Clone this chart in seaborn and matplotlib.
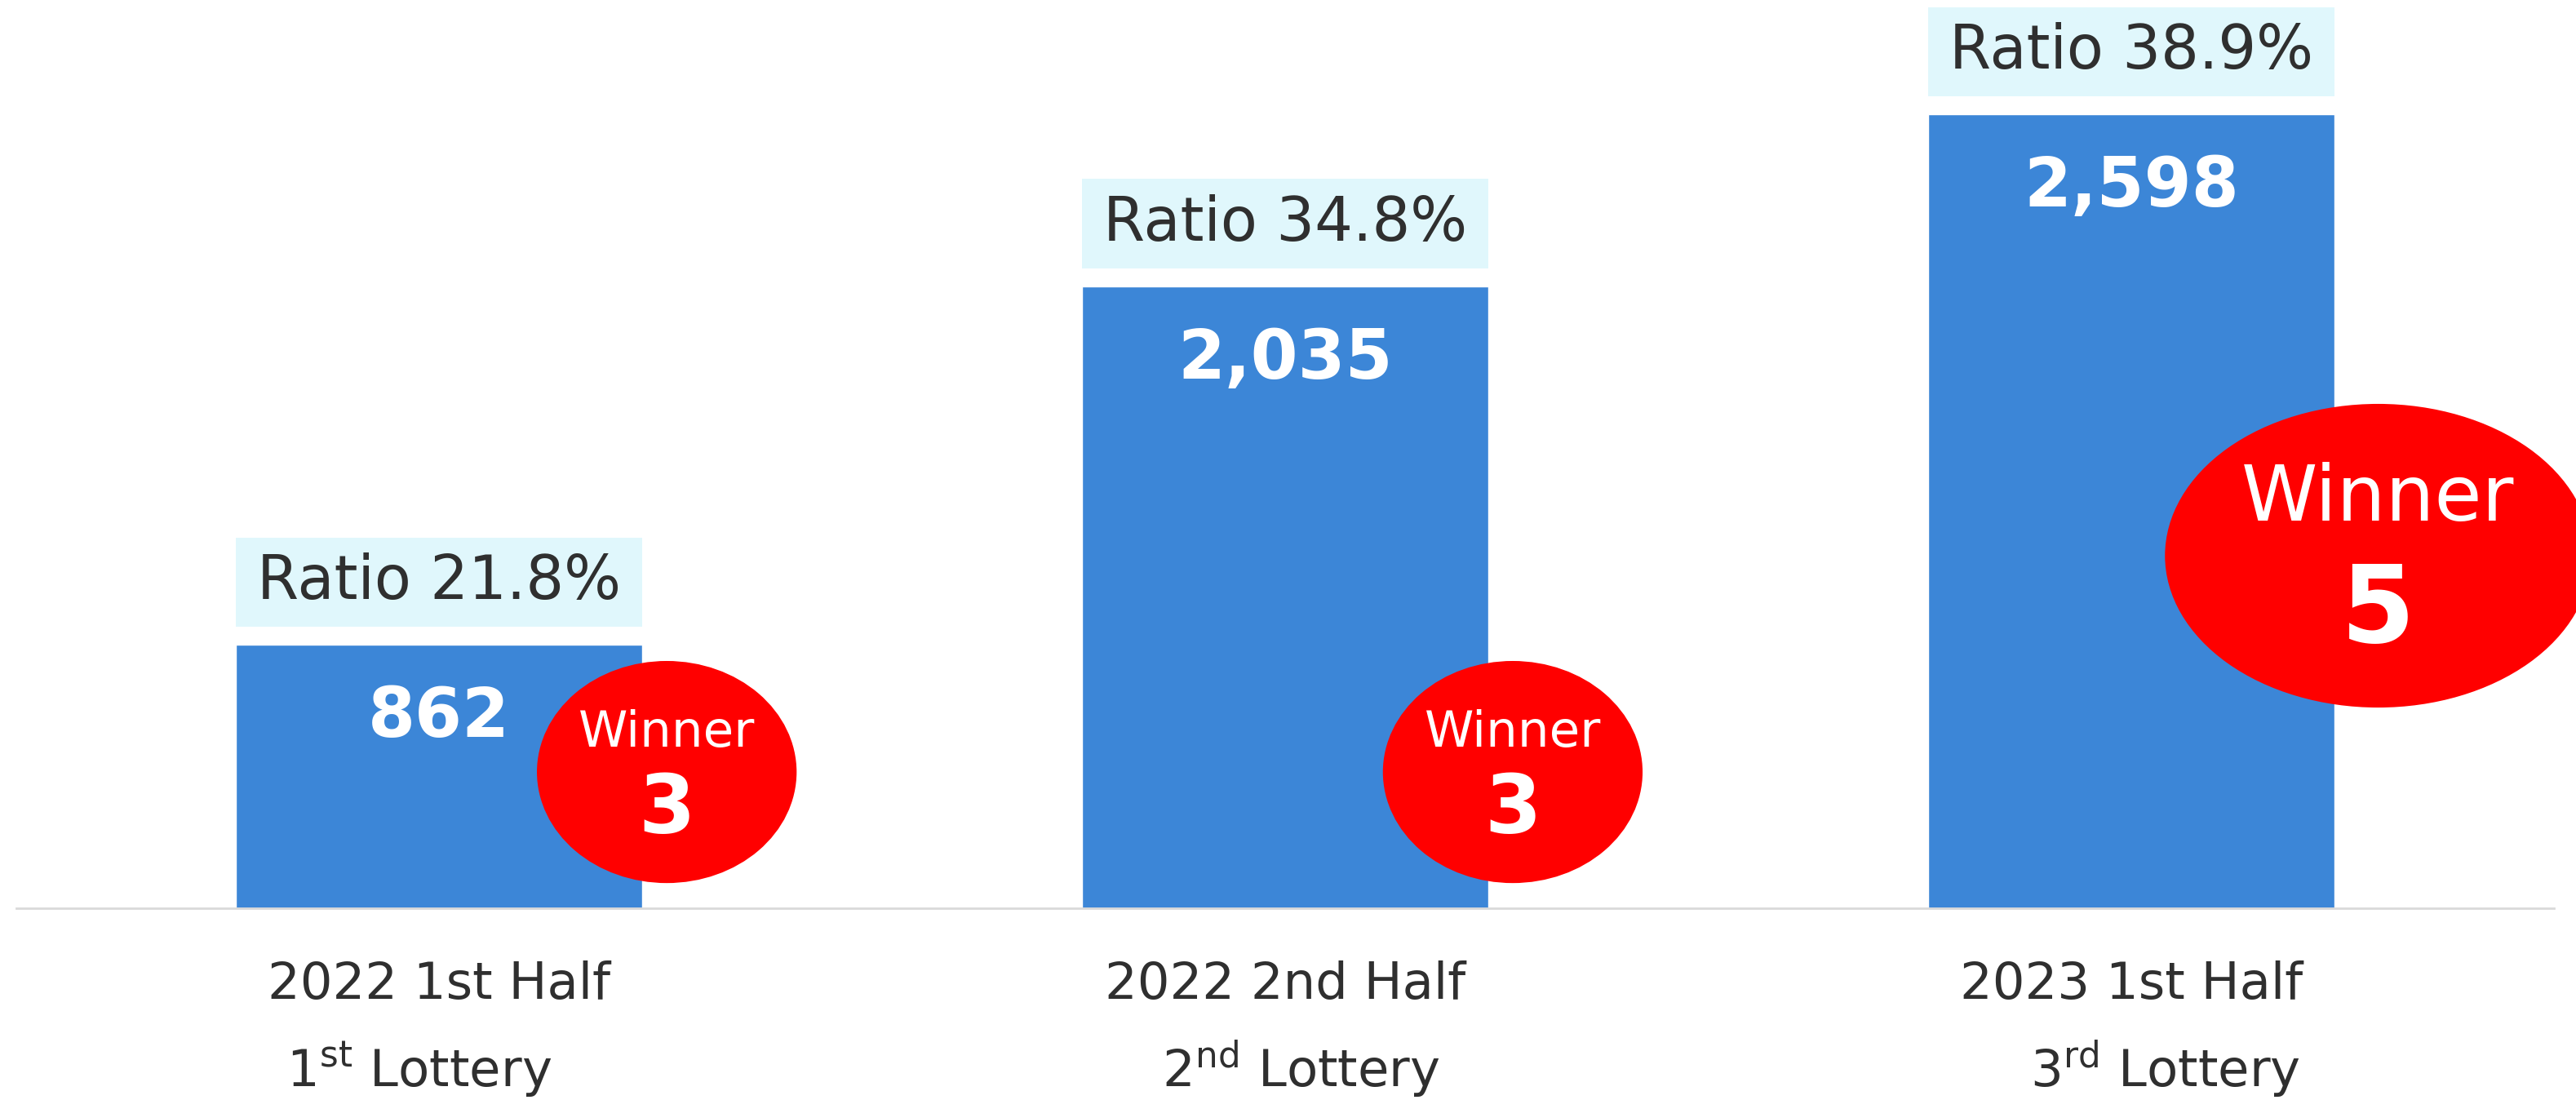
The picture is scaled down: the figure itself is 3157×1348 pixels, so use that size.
import matplotlib
matplotlib.use("Agg")
import matplotlib.pyplot as plt
from matplotlib.patches import Ellipse, Rectangle
import seaborn as sns

# data
periods = ["2022 1st Half", "2022 2nd Half", "2023 1st Half"]
lotteries = [r"1$^{\mathrm{st}}$ Lottery", r"2$^{\mathrm{nd}}$ Lottery", r"3$^{\mathrm{rd}}$ Lottery"]
applicants = [862, 2035, 2598]
ratios = [21.8, 34.8, 38.9]
winners = [3, 3, 5]

BAR = "#3C86D7"
BOX = "#E0F7FC"
RED = "#FF0000"
DARK = "#2F2F2F"

sns.set_theme(style="white")
plt.rcParams["font.family"] = ["DejaVu Sans"]

fig = plt.figure(figsize=(31.57, 13.48), dpi=100)
ax = fig.add_axes([0.0063, 0.1743, 0.9852, 0.8257])

sns.barplot(x=periods, y=applicants, color=BAR, saturation=1, width=0.48, ax=ax)
ax.set_xlim(-0.5, 2.5)
ax.set_ylim(0, 2973)
sns.despine(ax=ax, left=True)
ax.spines["bottom"].set_color("#D9D9D9")
ax.spines["bottom"].set_linewidth(2)
ax.set_yticks([])
ax.set_xticks([])
ax.set_xlabel("")
ax.set_ylabel("")

# ellipse layout (x offset from bar, width in categories, height/centre in data units)
ell_dx = [0.269, 0.269, 0.292]
ell_w = [0.307, 0.307, 0.504]
ell_h = [727, 727, 994]
ell_cy = [446, 446, 1154]
win_fs = [44, 44, 68]
num_fs = [72, 72, 94]
win_off = [34, 34, 50]
lot_dx = [-18, 14, 30]

for i, (n, r, w) in enumerate(zip(applicants, ratios, winners)):
    # ratio box above bar
    ax.add_patch(Rectangle((i - 0.24, n + 60), 0.48, 292, color=BOX, lw=0, clip_on=False))
    ax.text(i, n + 60 + 146, f"Ratio {r}%", ha="center", va="center",
            fontsize=53, color=DARK)
    # applicant count inside bar
    ax.annotate(f"{n:,}", xy=(i, n), xytext=(0, -64), textcoords="offset points",
                ha="center", va="center", fontsize=60, fontweight="bold", color="white")
    # winner bubble
    cx = i + ell_dx[i]
    ax.add_patch(Ellipse((cx, ell_cy[i]), ell_w[i], ell_h[i], color=RED, lw=0,
                         clip_on=False, zorder=5))
    ax.annotate("Winner", xy=(cx, ell_cy[i]), xytext=(0, win_off[i]), textcoords="offset points",
                ha="center", va="center", fontsize=win_fs[i], color="white", zorder=6)
    ax.annotate(str(w), xy=(cx, ell_cy[i]), xytext=(0, -win_off[i]), textcoords="offset points",
                ha="center", va="center", fontsize=num_fs[i], fontweight="bold",
                color="white", zorder=6)
    # category labels
    ax.annotate(periods[i], xy=(i, 0), xycoords=ax.get_xaxis_transform(),
                xytext=(0, -68), textcoords="offset points", ha="center", va="center",
                fontsize=45, color=DARK, annotation_clip=False)
    ax.annotate(lotteries[i], xy=(i, 0), xycoords=ax.get_xaxis_transform(),
                xytext=(lot_dx[i], -142), textcoords="offset points", ha="center", va="center",
                fontsize=45, color=DARK, annotation_clip=False)

fig.savefig("out.png", dpi=100)
